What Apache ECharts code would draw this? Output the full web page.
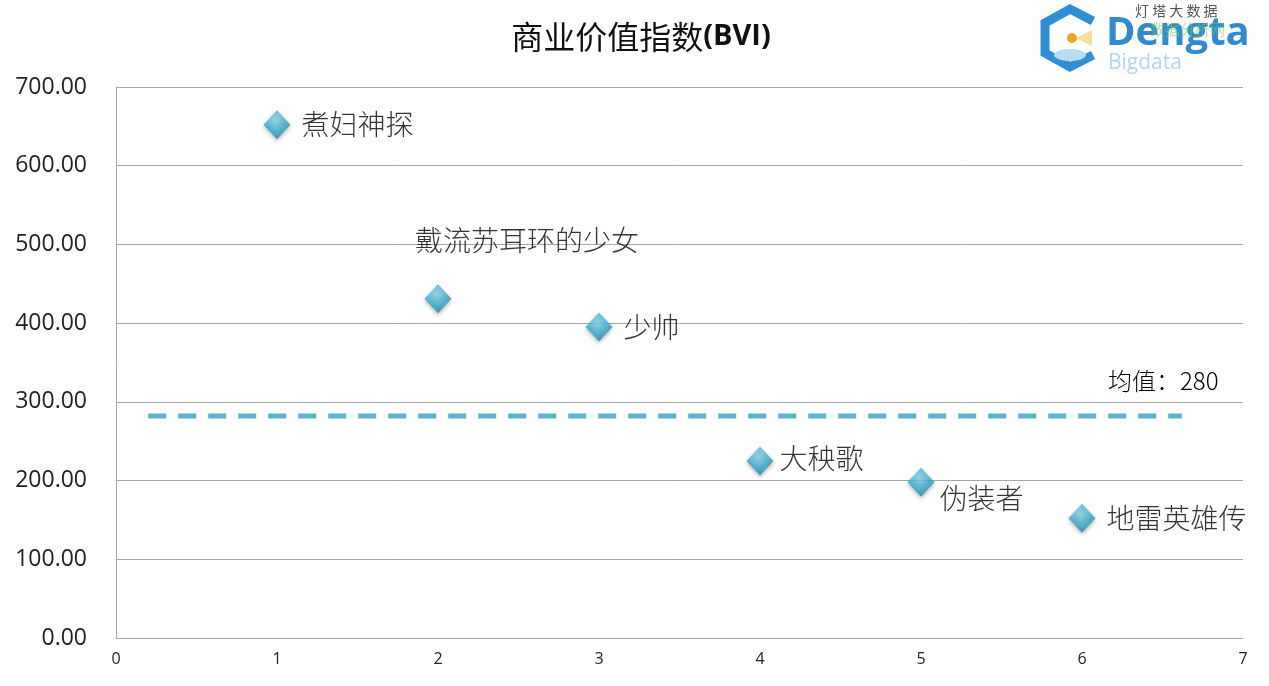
<!DOCTYPE html>
<html>
<head>
<meta charset="utf-8">
<script src="https://cdn.jsdelivr.net/npm/echarts@6/dist/echarts.min.js"></script>
<style>
html,body{margin:0;padding:0;background:#fff;}
#main{width:1269px;height:686px;}
</style>
</head>
<body>
<div id="main"></div>
<script>
const titleText = '商业价值指数(BVI)';
const names = ['煮妇神探', '戴流苏耳环的少女', '少帅', '大秧歌', '伪装者', '地雷英雄传'];
const xValues = [1, 2, 3, 4, 5, 6];
const bviValues = [652, 431, 395, 225, 198, 152];
const meanValue = 282;
const meanLabel = '均值：280';
const meanRange = [0.2, 6.62];
const yTicks = [0, 100, 200, 300, 400, 500, 600, 700];
const xTicks = [0, 1, 2, 3, 4, 5, 6, 7];

const labelStyles = [
  { position: 'right', distance: 11 },
  { position: 'inside', offset: [89, -58] },
  { position: 'right', distance: 11 },
  { position: 'right', distance: 6, offset: [0, -3] },
  { position: 'right', distance: 5, offset: [0, 16] },
  { position: 'right', distance: 11 }
];

const chart = echarts.init(document.getElementById('main'));
const markerColor = new echarts.graphic.RadialGradient(0.45, 0.35, 0.7, [
  { offset: 0, color: '#8fd8ec' },
  { offset: 0.5, color: '#3fb0d2' },
  { offset: 1, color: '#1f7f9e' }
]);

const pointData = names.map((n, i) => ({
  value: [xValues[i], bviValues[i]],
  name: n,
  label: Object.assign({ show: true, formatter: n }, labelStyles[i])
}));

chart.setOption({
  backgroundColor: '#ffffff',
  animation: false,
  title: {
    text: '{a|商业价值指数}{b|(BVI)}',
    left: 636,
    textAlign: 'center',
    top: 16,
    textStyle: {
      rich: {
        a: { fontFamily: 'Noto Sans CJK SC', fontSize: 32, color: '#111', fontWeight: 400 },
        b: { fontFamily: 'Open Sans', fontSize: 29, color: '#111', fontWeight: 'bold' }
      }
    }
  },
  grid: { left: 116, right: 26, top: 87, bottom: 48 },
  xAxis: {
    type: 'value',
    min: 0, max: 7, interval: 1,
    axisLine: { show: true, lineStyle: { color: '#a6a6a6', width: 1 } },
    axisTick: { show: false },
    splitLine: { show: false },
    axisLabel: {
      color: '#222', fontSize: 16, fontFamily: 'Open Sans', margin: 13,
      formatter: v => xTicks.includes(v) ? String(v) : ''
    }
  },
  yAxis: {
    type: 'value',
    min: 0, max: 700, interval: 100,
    axisLine: { show: true, lineStyle: { color: '#a6a6a6', width: 1 } },
    axisTick: { show: false },
    splitLine: { show: true, lineStyle: { color: '#a6a6a6', width: 1 } },
    axisLabel: {
      color: '#222', fontSize: 23, fontFamily: 'Open Sans', margin: 29,
      formatter: v => yTicks.includes(v) ? v.toFixed(2) : ''
    }
  },
  series: [
    {
      type: 'line',
      data: [[meanRange[0], meanValue], [meanRange[1], meanValue]],
      symbol: 'none',
      lineStyle: { color: '#5cb3cf', width: 5, type: [18, 12] },
      silent: true,
      z: 1
    },
    {
      type: 'scatter',
      data: pointData,
      symbol: 'diamond',
      symbolSize: [27, 29],
      itemStyle: {
        color: markerColor,
        shadowColor: 'rgba(0,0,0,0.35)',
        shadowBlur: 4,
        shadowOffsetY: 2
      },
      label: {
        color: '#000',
        fontSize: 28,
        fontFamily: 'Noto Sans CJK SC',
        fontWeight: 300
      },
      z: 3
    }
  ],
  graphic: [
    {
      type: 'text', left: 1108, top: 369,
      style: { text: meanLabel, fontSize: 24, fontFamily: 'Noto Sans CJK SC', fill: '#000', fontWeight: 300 }
    },
    {
      type: 'polyline',
      shape: { points: [[1093, 21], [1070, 9], [1045, 23], [1045, 53], [1070, 67], [1093, 55]] },
      style: { stroke: '#2f8fd6', lineWidth: 9, fill: null, lineJoin: 'miter' }
    },
    {
      type: 'circle', shape: { cx: 1072, cy: 38, r: 5 },
      style: { fill: '#f2a321' }
    },
    {
      type: 'polygon', shape: { points: [[1076, 38], [1092, 30], [1092, 46]] },
      style: { fill: '#f8dca0' }
    },
    {
      type: 'ellipse', shape: { cx: 1070, cy: 55, rx: 16, ry: 6 },
      style: { fill: '#b9dcf3' }
    },
    {
      type: 'text', left: 1135, top: 4,
      style: { text: '灯 塔 大 数 据', fontSize: 14, fontFamily: 'Noto Sans CJK SC', fill: '#555' }
    },
    {
      type: 'text', left: 1106, top: 14,
      style: { text: 'Dengta', fontSize: 40, fontWeight: 'bold', fontFamily: 'Open Sans', fill: '#2f8ad0' }
    },
    {
      type: 'text', left: 1150, top: 22,
      style: { text: '数据分析网', fontSize: 15, fontFamily: 'Noto Sans CJK SC', fill: 'rgba(120,200,90,0.55)' }
    },
    {
      type: 'text', left: 1108, top: 53,
      style: { text: 'Bigdata', fontSize: 21, fontFamily: 'Open Sans', fill: '#b3d5ef' }
    }
  ]
});
</script>
</body>
</html>
